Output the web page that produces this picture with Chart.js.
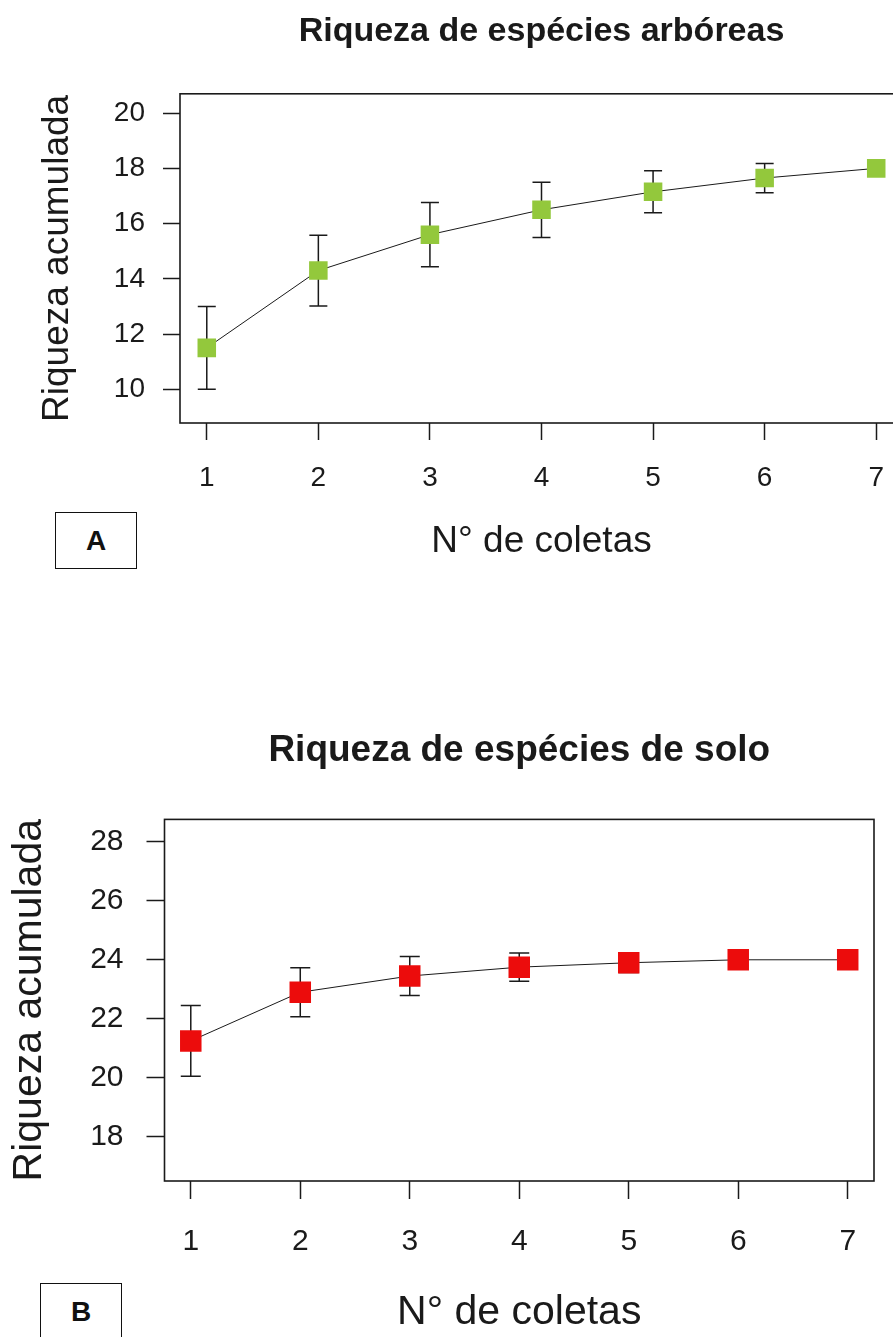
<!DOCTYPE html>
<html>
<head>
<meta charset="utf-8">
<script src="https://cdn.jsdelivr.net/npm/chart.js@4"></script>
<style>
  html, body { margin: 0; padding: 0; background: #fff; width: 893px; height: 1337px; overflow: hidden; }
  canvas { position: absolute; left: 0; }
  #chartA { top: 0; }
  #chartB { top: 700px; }
  .tag {
    position: absolute; border: 1px solid #111; background: #fff;
    font: bold 28px "Liberation Sans", Arial, sans-serif; color: #111;
    display: flex; align-items: center; justify-content: center;
  }
</style>
</head>
<body>
<canvas id="chartA" width="930" height="600"></canvas>
<canvas id="chartB" width="893" height="637"></canvas>
<div class="tag" style="left:55px; top:512px; width:80px; height:55px;">A</div>
<div class="tag" style="left:40px; top:1283px; width:80px; height:70px; align-items:flex-start;"><span style="margin-top:12px">B</span></div>
<script>
// dados
const coletas = [1, 2, 3, 4, 5, 6, 7];
const riquezaArb = [11.5, 14.3, 15.6, 16.5, 17.15, 17.65, 18.0];
const erroArb = [1.5, 1.28, 1.16, 1.0, 0.76, 0.53, 0];
const riquezaSolo = [21.25, 22.9, 23.45, 23.75, 23.9, 24.0, 24.0];
const erroSolo = [1.2, 0.83, 0.66, 0.48, 0.33, 0.2, 0];
const ticksY_A = [10, 12, 14, 16, 18, 20];
const ticksY_B = [18, 20, 22, 24, 26, 28];

const FONT = '"Liberation Sans", Arial, sans-serif';
const INK = '#1a1a1a';

// barras de erro (antes dos pontos) e moldura do gráfico
const errorBars = {
    id: 'errorBars',
    beforeDatasetsDraw(chart, args, opts) {
        const ctx = chart.ctx;
        const xs = chart.scales.x, ys = chart.scales.y;
        ctx.save();
        ctx.strokeStyle = INK;
        ctx.lineWidth = 1.5;
        opts.values.forEach((v, i) => {
            const e = opts.errors[i];
            if (!e) return;
            const x = xs.getPixelForValue(opts.x[i]);
            const y1 = ys.getPixelForValue(v - e);
            const y2 = ys.getPixelForValue(v + e);
            ctx.beginPath();
            ctx.moveTo(x, y1); ctx.lineTo(x, y2);
            ctx.moveTo(x - opts.cap / 2, y1); ctx.lineTo(x + opts.cap / 2, y1);
            ctx.moveTo(x - opts.cap / 2, y2); ctx.lineTo(x + opts.cap / 2, y2);
            ctx.stroke();
        });
        ctx.restore();
    },
    afterDraw(chart) {
        const a = chart.chartArea;
        const ctx = chart.ctx;
        ctx.save();
        ctx.strokeStyle = INK;
        ctx.lineWidth = 1.6;
        ctx.strokeRect(a.left, a.top, a.right - a.left, a.bottom - a.top);
        ctx.restore();
    }
};

function makeChart(id, cfg) {
    return new Chart(document.getElementById(id), {
        type: 'line',
        data: {
            datasets: [{
                data: coletas.map((c, i) => ({ x: c, y: cfg.values[i] })),
                borderColor: INK,
                borderWidth: 1,
                pointStyle: 'rect',
                pointRadius: cfg.pointRadius,
                pointBackgroundColor: cfg.color,
                pointBorderWidth: 0,
                tension: 0
            }]
        },
        options: {
            responsive: false,
            animation: false,
            layout: { padding: cfg.padding },
            plugins: {
                legend: { display: false },
                tooltip: { enabled: false },
                title: {
                    display: true,
                    text: cfg.title,
                    fullSize: false,
                    color: INK,
                    font: { family: FONT, size: cfg.titleSize, weight: 'bold' },
                    padding: cfg.titlePad
                },
                errorBars: { values: cfg.values, errors: cfg.errors, x: coletas, cap: cfg.cap }
            },
            scales: {
                x: {
                    type: 'linear',
                    min: 0.76,
                    max: 7.24,
                    afterBuildTicks: s => { s.ticks = coletas.map(v => ({ value: v })); },
                    afterFit: s => { s.height = cfg.xHeight; },
                    border: { display: false },
                    grid: { drawOnChartArea: false, drawTicks: true, tickLength: cfg.tick, tickColor: INK, tickWidth: 1.5 },
                    ticks: { color: INK, font: { family: FONT, size: cfg.tickSize }, padding: cfg.xTickPad },
                    title: {
                        display: true, text: 'N° de coletas', color: INK,
                        font: { family: FONT, size: cfg.axisSize }, padding: { top: 0, bottom: cfg.xTitlePad }
                    }
                },
                y: {
                    min: cfg.yMin,
                    max: cfg.yMax,
                    afterBuildTicks: s => { s.ticks = cfg.yTicks.map(v => ({ value: v })); },
                    afterFit: s => { s.width = cfg.yWidth; },
                    border: { display: false },
                    grid: { drawOnChartArea: false, drawTicks: true, tickLength: cfg.tick, tickColor: INK, tickWidth: 1.5 },
                    ticks: { color: INK, font: { family: FONT, size: cfg.tickSize }, padding: cfg.yTickPad },
                    title: {
                        display: true, text: 'Riqueza acumulada', color: INK,
                        font: { family: FONT, size: cfg.axisSize }, padding: { top: cfg.yTitlePad, bottom: 0 }
                    }
                }
            }
        },
        plugins: [errorBars]
    });
}

makeChart('chartA', {
    title: 'Riqueza de espécies arbóreas',
    values: riquezaArb, errors: erroArb, yTicks: ticksY_A,
    yMin: 8.78, yMax: 20.7,
    color: '#93c83c', pointRadius: 13.1, cap: 18,
    padding: { top: 0, left: 0, right: 27, bottom: 0 },
    titleSize: 34, titlePad: { top: 11, bottom: 42 },
    axisSize: 37, tickSize: 28, tick: 17,
    yWidth: 180, xHeight: 177,
    yTickPad: 18, xTickPad: 21,
    xTitlePad: 36, yTitlePad: 36
});

makeChart('chartB', {
    title: 'Riqueza de espécies de solo',
    values: riquezaSolo, errors: erroSolo, yTicks: ticksY_B,
    yMin: 16.5, yMax: 28.76,
    color: '#ec0c0c', pointRadius: 15.2, cap: 20,
    padding: { top: 0, left: 0, right: 19, bottom: 0 },
    titleSize: 37, titlePad: { top: 29, bottom: 46 },
    axisSize: 41, tickSize: 30, tick: 18,
    yWidth: 164.5, xHeight: 156,
    yTickPad: 23, xTickPad: 25,
    xTitlePad: 0, yTitlePad: 5
});
</script>
</body>
</html>
